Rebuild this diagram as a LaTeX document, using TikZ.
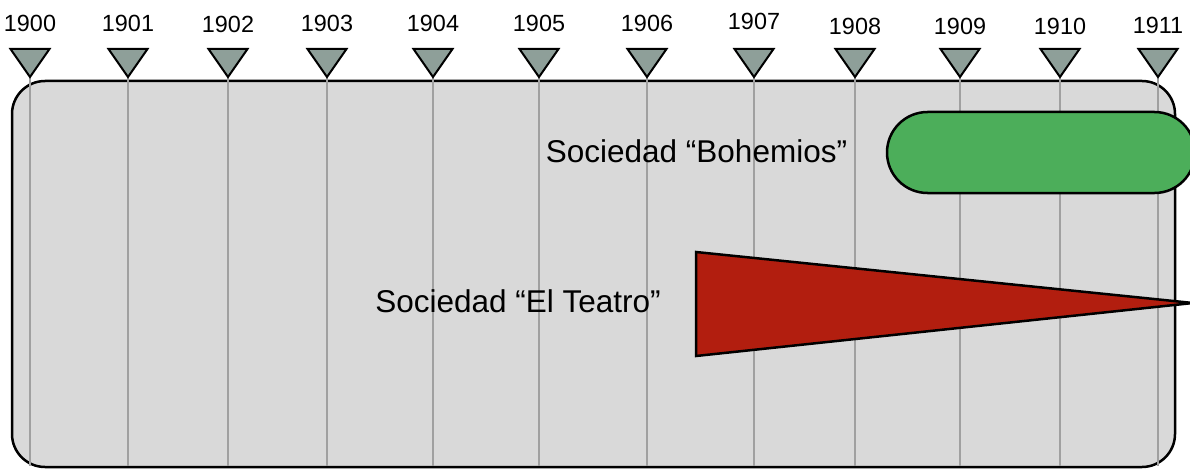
\documentclass[tikz,border=0pt]{standalone}
\usepackage{fontspec}
\setmainfont{Liberation Sans}
\definecolor{boxgray}{HTML}{D9D9D9}
\definecolor{tickgray}{HTML}{A0A0A0}
\definecolor{markfill}{HTML}{8E9F99}
\definecolor{barcolor}{HTML}{4CAE5A}
\definecolor{wedgecolor}{HTML}{B21E0F}
\begin{document}
\begin{tikzpicture}[x=1pt,y=-1pt,
  panel/.style={draw=black,line width=2.5pt,fill=boxgray,rounded corners=33pt},
  tickline/.style={draw=tickgray,line width=2.5pt},
  marker/.style={draw=black,line width=2pt,fill=markfill,line join=miter},
  yearlabel/.style={anchor=base,inner sep=0pt,font=\fontsize{23.4}{28}\selectfont},
  biglabel/.style={anchor=base,inner sep=0pt,font=\fontsize{31.5}{38}\selectfont},
  greenbar/.style={draw=black,line width=2.5pt,fill=barcolor,rounded corners=40.5pt},
  wedge/.style={draw=black,line width=2.5pt,fill=wedgecolor,line join=miter}]
\useasboundingbox (0,0) rectangle (1190,468);
\draw[panel] (12,81) rectangle (1175,467);
\foreach \yr/\px/\bl in {1900/30/32,1901/128/32,1902/228/33,1903/327/32,1904/433/32,1905/539/32,1906/647/32,1907/754/30,1908/855/35,1909/960/35,1910/1060/35,1911/1158/34}{
  \coordinate (t\yr) at (\px,77);
  \coordinate (b\yr) at (\px,466);
  \draw[tickline] (t\yr) -- (b\yr);
  \draw[marker] (\px-19.5,49) -- (\px+19.5,49) -- (t\yr) -- cycle;
  \node[yearlabel] (y\yr) at (\px,\bl) {\yr};
}
\draw[greenbar] (887,112) rectangle (1195,193);
\draw[wedge] (696,252) -- (696,356) -- (1193,303) -- cycle;
\node[biglabel] (bohemios) at (696.5,162) {Sociedad “Bohemios”};
\node[biglabel] (teatro) at (518,312) {Sociedad “El Teatro”};
\end{tikzpicture}
\end{document}
